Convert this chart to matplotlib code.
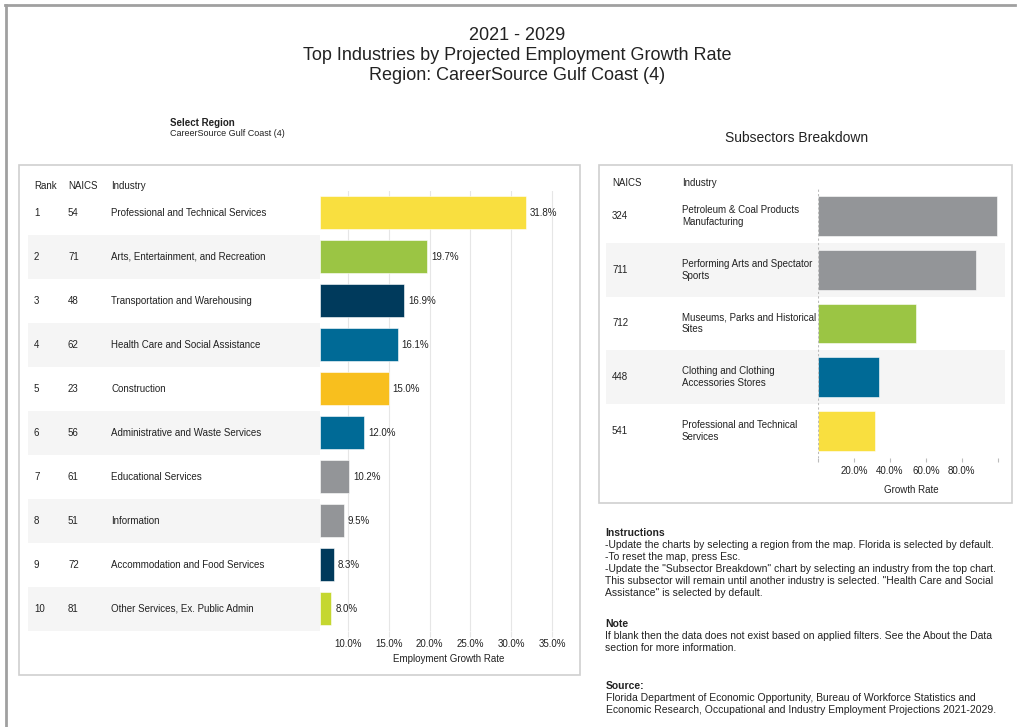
import matplotlib
matplotlib.use("Agg")
import matplotlib.pyplot as plt
from matplotlib.patches import Rectangle
from matplotlib.lines import Line2D

plt.rcParams["font.family"] = ["Liberation Sans", "DejaVu Sans"]

# ──────────────────────────────────────────────────────────────
# DADOS
# ──────────────────────────────────────────────────────────────
RANKS = [1, 2, 3, 4, 5, 6, 7, 8, 9, 10]
NAICS = ["54", "71", "48", "62", "23", "56", "61", "51", "72", "81"]
INDUSTRIES = [
    "Professional and Technical Services",
    "Arts, Entertainment, and Recreation",
    "Transportation and Warehousing",
    "Health Care and Social Assistance",
    "Construction",
    "Administrative and Waste Services",
    "Educational Services",
    "Information",
    "Accommodation and Food Services",
    "Other Services, Ex. Public Admin",
]
GROWTH = [31.8, 19.7, 16.9, 16.1, 15.0, 12.0, 10.2, 9.5, 8.3, 8.0]
BAR_COLORS = ["#F9DF3F", "#9BC544", "#003A5C", "#006A96", "#F8BF1E",
              "#006A96", "#939598", "#939598", "#003A5C", "#C5D730"]
X_TICKS = [10, 15, 20, 25, 30, 35]

SUB_NAICS = ["324", "711", "712", "448", "541"]
SUB_INDUSTRIES = [
    "Petroleum & Coal Products\nManufacturing",
    "Performing Arts and Spectator\nSports",
    "Museums, Parks and Historical\nSites",
    "Clothing and Clothing\nAccessories Stores",
    "Professional and Technical\nServices",
]
SUB_GROWTH = [99.4, 87.8, 54.4, 34.0, 31.7]
SUB_COLORS = ["#939598", "#939598", "#9BC544", "#006A96", "#F9DF3F"]
SUB_TICKS = [0, 20, 40, 60, 80, 100]
SUB_TICK_LABELS = ["", "20.0%", "40.0%", "60.0%", "80.0%", ""]

INSTRUCTIONS = [
    "-Update the charts by selecting a region from the map. Florida is selected by default.",
    "-To reset the map, press Esc.",
    "-Update the \"Subsector Breakdown\" chart by selecting an industry from the top chart.",
    "This subsector will remain until another industry is selected. \"Health Care and Social",
    "Assistance\" is selected by default.",
]
NOTE = [
    "If blank then the data does not exist based on applied filters. See the About the Data",
    "section for more information.",
]
SOURCE = [
    "Florida Department of Economic Opportunity, Bureau of Workforce Statistics and",
    "Economic Research, Occupational and Industry Employment Projections 2021-2029.",
]
# ──────────────────────────────────────────────────────────────

W, H = 1018, 727
TXT = "#222222"
SHADE = "#F5F5F5"

fig = plt.figure(figsize=(W / 100, H / 100), dpi=100)


def caixa(x0, y0, x1, y1):
    return [x0 / W, 1 - y1 / H, (x1 - x0) / W, (y1 - y0) / H]


def texto(x, y, s, **kw):
    kw.setdefault("color", TXT)
    kw.setdefault("va", "center")
    fig.text(x / W, 1 - y / H, s, **kw)


# ── Moldura externa e caixas ──────────────────────────────────
fig.add_artist(Line2D([5 / W, 1015 / W], [1 - 5 / H, 1 - 5 / H],
                      color="#A0A0A0", lw=2))
fig.add_artist(Line2D([6 / W, 6 / W], [1 - 5 / H, 0],
                      color="#A0A0A0", lw=2))
for x0, y0, x1, y1 in [(19, 165, 580, 675), (599, 165, 1012, 503)]:
    fig.add_artist(Rectangle((x0 / W, 1 - y1 / H), (x1 - x0) / W, (y1 - y0) / H,
                             fill=False, edgecolor="#CFCFCF", lw=1.2))

# ── Títulos ───────────────────────────────────────────────────
texto(517, 35, "2021 - 2029", ha="center", fontsize=13)
texto(517, 55, "Top Industries by Projected Employment Growth Rate", ha="center", fontsize=13)
texto(517, 75, "Region: CareerSource Gulf Coast (4)", ha="center", fontsize=13)
texto(170, 123, "Select Region", fontsize=7, fontweight="bold")
texto(170, 134, "CareerSource Gulf Coast (4)", fontsize=6.5)
texto(797, 138, "Subsectors Breakdown", ha="center", fontsize=10)

# ── Gráfico da esquerda ───────────────────────────────────────
n = len(GROWTH)
XMIN, XMAX = 6.6, 38.1

tab = fig.add_axes(caixa(28, 191, 320, 631))
tab.set_xlim(28, 320)
tab.set_ylim(n - 0.5, -0.5)
tab.axis("off")
for i in range(n):
    if i % 2 == 1:
        tab.axhspan(i - 0.5, i + 0.5, color=SHADE, lw=0)
    tab.text(34, i, str(RANKS[i]), va="center", fontsize=7, color=TXT)
    tab.text(68, i, NAICS[i], va="center", fontsize=7, color=TXT)
    tab.text(111, i, INDUSTRIES[i], va="center", fontsize=7, color=TXT)
texto(34, 186, "Rank", fontsize=7)
texto(68, 186, "NAICS", fontsize=7)
texto(111, 186, "Industry", fontsize=7)

ax = fig.add_axes(caixa(320, 191, 577.5, 631))
ax.barh(range(n), [v - XMIN for v in GROWTH], left=XMIN, height=0.75,
        color=BAR_COLORS, edgecolor="white", linewidth=0.4, zorder=3)
for i, v in enumerate(GROWTH):
    ax.text(v + 0.5, i, f"{v:.1f}%", va="center", fontsize=7, color=TXT, zorder=4)
ax.set_xlim(XMIN, XMAX)
ax.set_ylim(n - 0.5, -0.5)
ax.set_xticks(X_TICKS)
ax.set_xticklabels([f"{t:.1f}%" for t in X_TICKS], fontsize=7, color=TXT)
ax.set_yticks([])
ax.grid(axis="x", color="#E6E6E6", lw=0.8, zorder=0)
ax.tick_params(axis="x", length=4, color="#E6E6E6", pad=2)
for s in ax.spines.values():
    s.set_visible(False)
ax.set_xlabel("Employment Growth Rate", fontsize=7, color=TXT, labelpad=3)

# ── Gráfico da direita ────────────────────────────────────────
m = len(SUB_GROWTH)

tab2 = fig.add_axes(caixa(606, 189, 818, 458))
tab2.set_xlim(606, 818)
tab2.set_ylim(m - 0.5, -0.5)
tab2.axis("off")
for i in range(m):
    if i % 2 == 1:
        tab2.axhspan(i - 0.5, i + 0.5, color=SHADE, lw=0)
    tab2.text(612, i, SUB_NAICS[i], va="center", fontsize=7, color=TXT)
    tab2.text(682, i, SUB_INDUSTRIES[i], va="center", fontsize=7, color=TXT,
              linespacing=1.25)
texto(612, 183, "NAICS", fontsize=7)
texto(682, 183, "Industry", fontsize=7)

ax2 = fig.add_axes(caixa(818, 189, 1005, 458))
for i in range(m):
    if i % 2 == 1:
        ax2.axhspan(i - 0.5, i + 0.5, color=SHADE, lw=0, zorder=0)
ax2.barh(range(m), SUB_GROWTH, height=0.74, color=SUB_COLORS,
         edgecolor="white", linewidth=0.4, zorder=3)
ax2.axvline(0, color="#BBBBBB", lw=0.8, ls=(0, (2, 2)), zorder=4)
ax2.set_xlim(0, 104)
ax2.set_ylim(m - 0.5, -0.5)
ax2.set_xticks(SUB_TICKS)
ax2.set_xticklabels(SUB_TICK_LABELS, fontsize=7, color=TXT)
ax2.set_yticks([])
ax2.tick_params(axis="x", length=3, color="#BBBBBB", pad=3)
for s in ax2.spines.values():
    s.set_visible(False)
ax2.set_xlabel("Growth Rate", fontsize=7, color=TXT, labelpad=6)

# ── Textos de instruções ──────────────────────────────────────
texto(605, 533, "Instructions", fontsize=7.5, fontweight="bold")
for k, linha in enumerate(INSTRUCTIONS):
    texto(605, 545 + 12 * k, linha, fontsize=7.5)
texto(605, 624, "Note", fontsize=7.5, fontweight="bold")
for k, linha in enumerate(NOTE):
    texto(605, 636 + 12 * k, linha, fontsize=7.5)
texto(606, 686, "Source:", fontsize=7.5, fontweight="bold")
for k, linha in enumerate(SOURCE):
    texto(606, 698 + 12 * k, linha, fontsize=7.5)

fig.savefig("out.png", dpi=100)
plt.close(fig)
